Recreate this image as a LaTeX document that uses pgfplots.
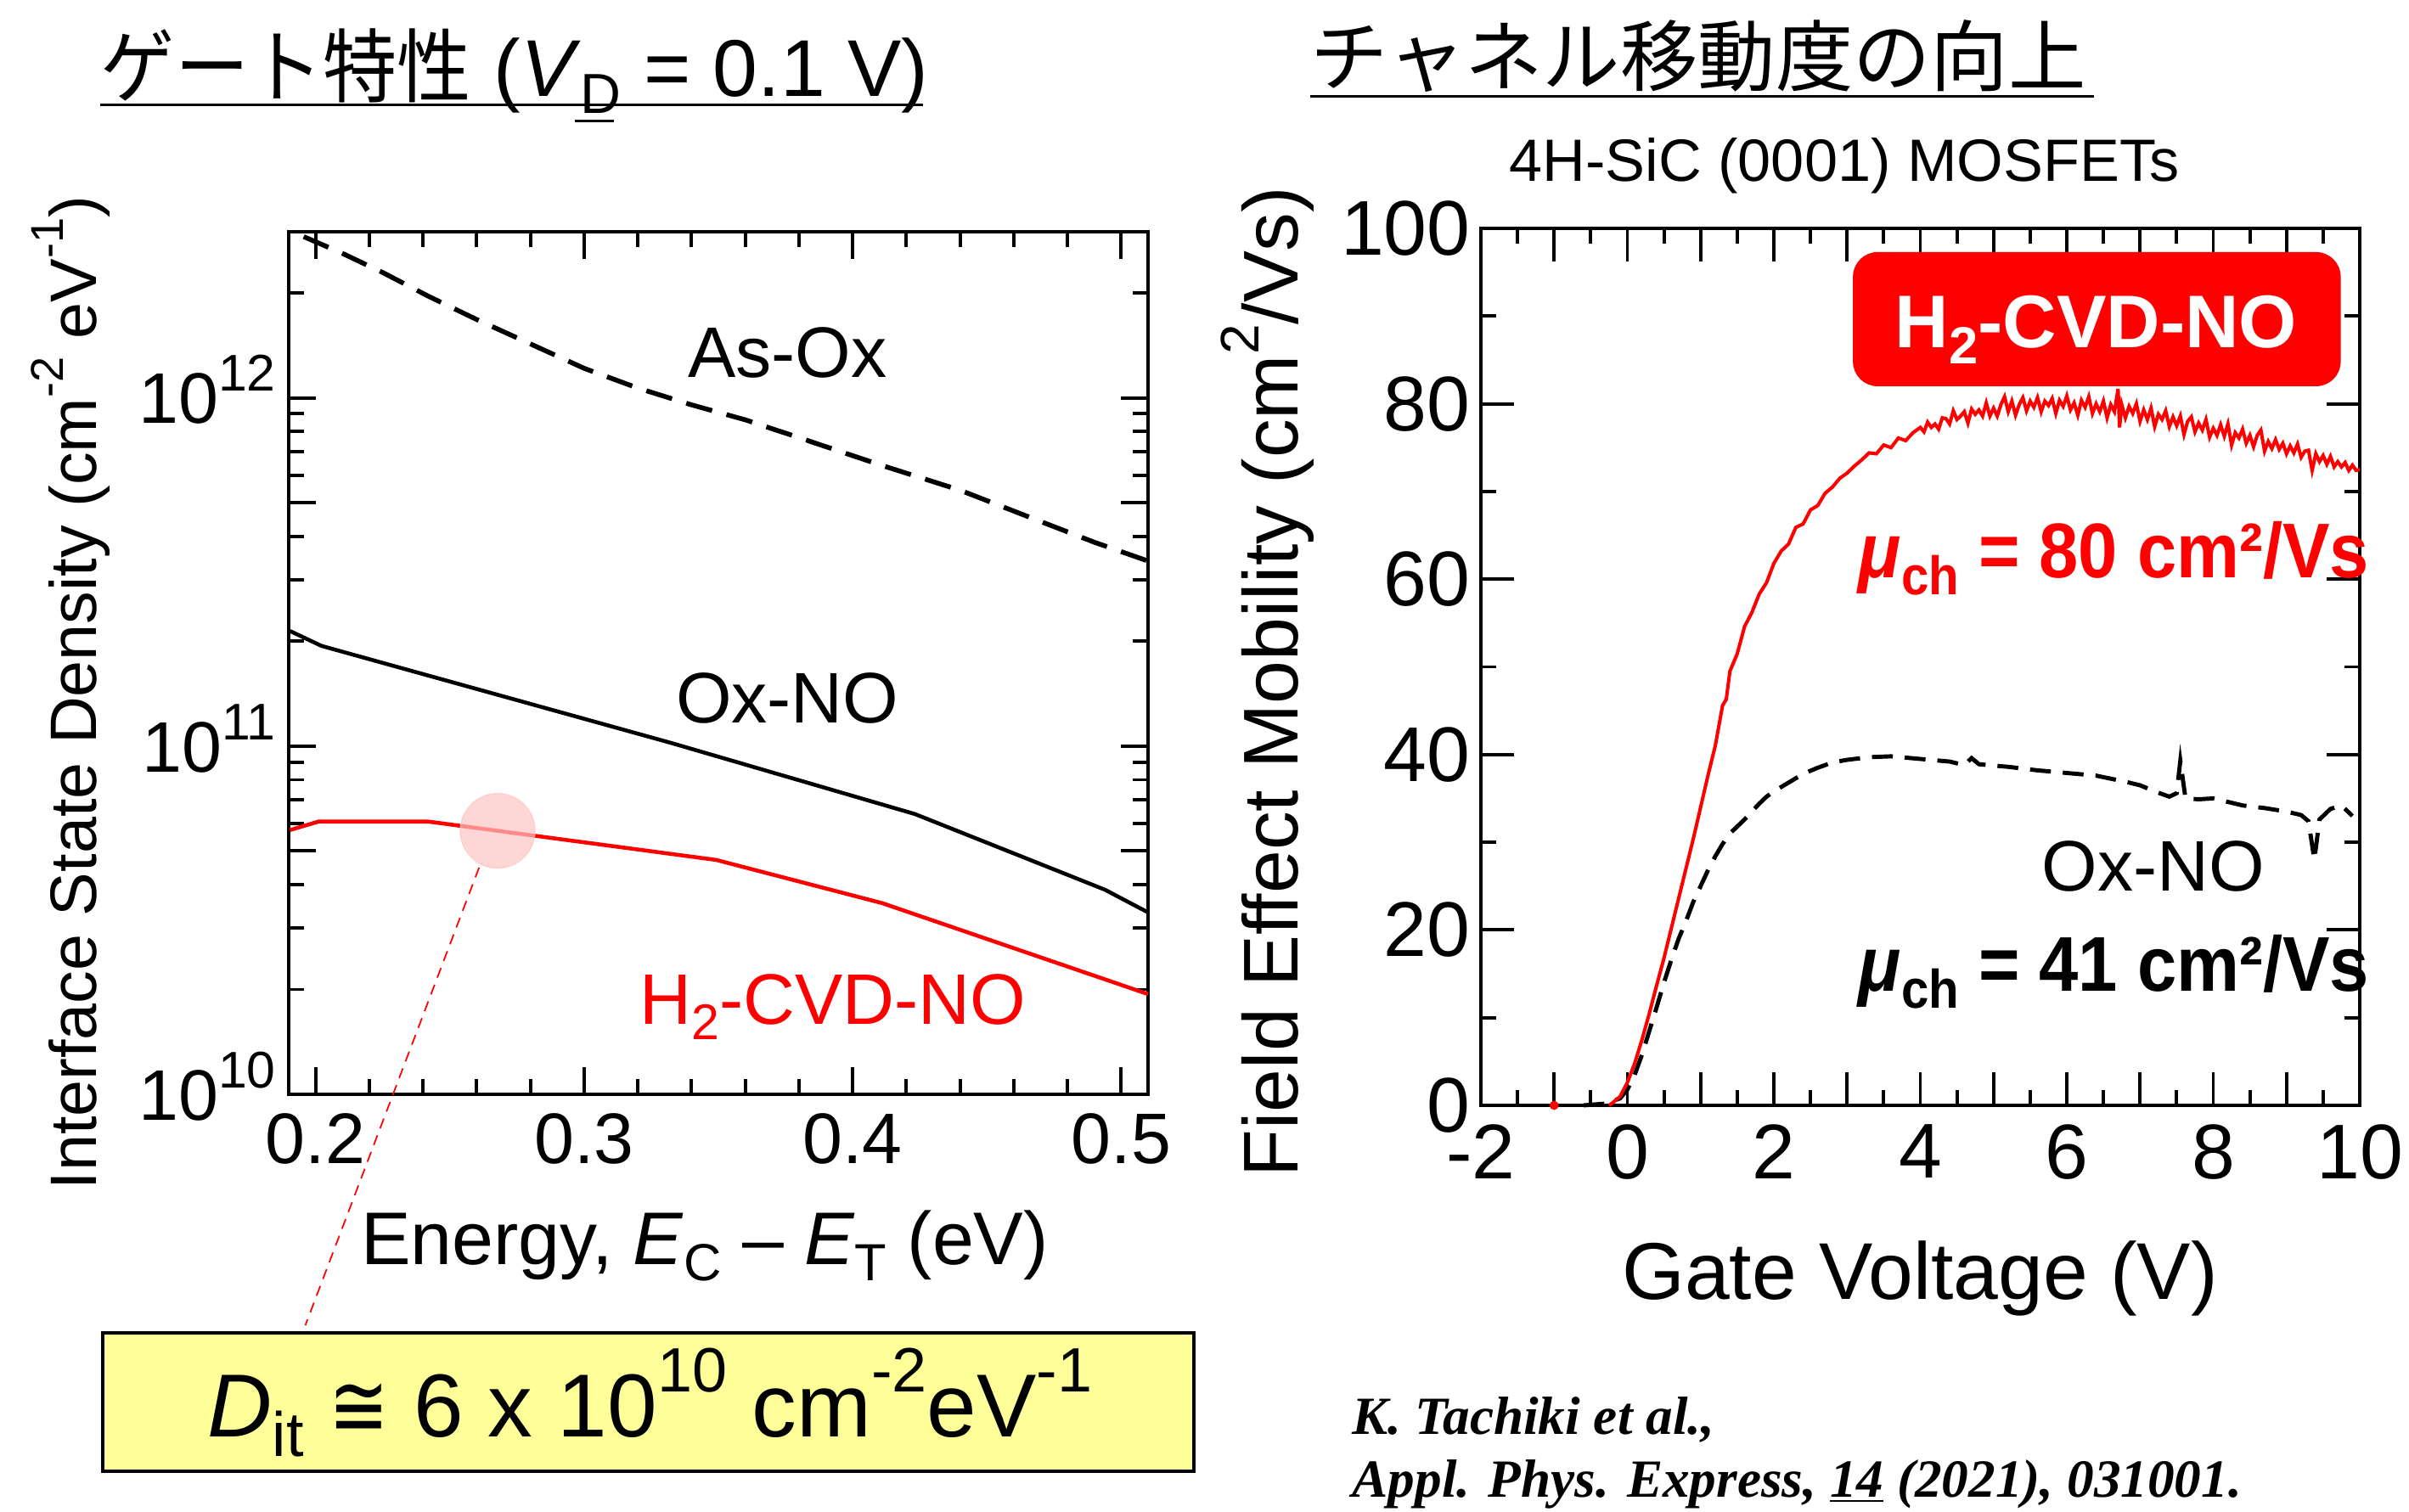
\documentclass[border=0pt]{standalone}
\usepackage{fontspec}
\setmainfont{Liberation Sans}
\newfontfamily\cjk{Noto Sans CJK JP}
\newfontfamily\tms{Liberation Serif}
\newfontfamily\dv{DejaVu Sans}
\usepackage{graphicx}
\usepackage{pgfplots}
\pgfplotsset{compat=1.18}
\newcommand{\sups}[1]{\raisebox{0.5em}{\scalebox{0.7}{#1}}}
\newcommand{\tsup}[1]{\raisebox{0.45em}{\scalebox{0.72}{#1}}}
\newcommand{\subs}[1]{\raisebox{-0.22em}{\scalebox{0.7}{#1}}}
\newcommand{\fs}[1]{\fontsize{#1}{#1}\selectfont}
\definecolor{pinkc}{RGB}{255,198,198}
\definecolor{yel}{RGB}{255,255,153}
\begin{document}
\begin{tikzpicture}
\fill[white] (0,0) rectangle (283.7mm,-178.1mm);
\path[use as bounding box] (0,0) rectangle (283.7mm,-178.1mm);

% ---------------- left axis ----------------
\begin{axis}[
  at={(34mm,-128.9mm)}, anchor=south west,
  width=101.2mm, height=101.6mm, scale only axis,
  xmin=0.19, xmax=0.51, ymode=log, ymin=1e10, ymax=3e12,
  xtick={0.2,0.3,0.4,0.5}, xticklabels={0.2,0.3,0.4,0.5},
  minor x tick num=4,
  ytick={1e10,1e11,1e12}, yticklabels={10\tsup{10},10\tsup{11},10\tsup{12}},
  minor ytick={2e10,3e10,4e10,6e10,7e10,8e10,9e10,2e11,3e11,4e11,6e11,7e11,8e11,9e11,2e12,3e12},
  extra y ticks={5e10,5e11}, extra y tick labels={},
  tick align=inside, major tick length=3.2mm, minor tick length=1.8mm,
  axis line style={line width=1.4pt},
  every tick/.style={black, line width=1.1pt},
  xticklabel style={font={\fs{24pt}}, yshift=-1mm},
  yticklabel style={font={\fs{24pt}}, anchor=base east, yshift=-8.6pt, xshift=-0.3mm},
  clip=false,
]
\addplot[black, line width=1.6pt, dash pattern=on 9pt off 5pt] coordinates {
 (0.1956,2.904e12) (0.21,2.600e12) (0.225,2.291e12) (0.242,1.959e12) (0.26,1.679e12) (0.28,1.429e12)
 (0.30,1.216e12) (0.32,1.067e12) (0.34,9.55e11) (0.36,8.65e11) (0.38,7.69e11) (0.41,6.43e11)
 (0.44,5.43e11) (0.465,4.57e11) (0.49,3.85e11) (0.51,3.40e11)};
\addplot[black, line width=1.3pt] coordinates {
 (0.1905,2.14e11) (0.2022,1.94e11) (0.3326,1.02e11) (0.4232,6.38e10) (0.4939,3.87e10) (0.51,3.33e10)};
\addplot[red, line width=1.3pt] coordinates {
 (0.1905,5.74e10) (0.2011,6.07e10) (0.242,6.07e10) (0.3492,4.71e10) (0.411,3.54e10) (0.51,1.94e10)};
\addplot[pinkc, only marks, mark=*, mark size=4.4mm, opacity=0.7] coordinates {(0.2678,5.71e10)};
\draw[red, line width=0.5pt, dash pattern=on 3.5pt off 2.5pt] (axis cs:0.2609,4.48e10) -- (axis cs:0.1962,2.17e9);
\node[font={\fs{24pt}}] at (axis cs:0.3757,1.35e12) {As-Ox};
\node[font={\fs{24pt}}] at (axis cs:0.3757,1.37e11) {Ox-NO};
\node[font={\fs{24pt}}, text=red] at (axis cs:0.3927,1.78e10) {H\subs{2}-CVD-NO};
\end{axis}

% ---------------- right axis ----------------
\begin{axis}[
  at={(174.4mm,-130.2mm)}, anchor=south west,
  width=103.5mm, height=103.3mm, scale only axis,
  xmin=-2, xmax=10, ymin=0, ymax=100,
  xtick={-2,-1,...,10}, xticklabels={-2,,0,,2,,4,,6,,8,,10},
  minor x tick num=1,
  ytick={0,20,40,60,80,100}, yticklabels={0,20,40,60,80,100},
  minor ytick={10,30,50,70,90},
  tick align=inside, major tick length=3.9mm, minor tick length=1.8mm,
  axis line style={line width=1.4pt},
  every tick/.style={black, line width=1.1pt},
  xticklabel style={font={\fs{26pt}}, yshift=-1mm},
  yticklabel style={font={\fs{26pt}}},
  clip=false,
]
\addplot[black, line width=1.4pt, dash pattern=on 7pt off 4pt] coordinates {
 (-0.6,0) (-0.3,0.2) (-0.1,0.8) (0.0,1.8) (0.1,3.5) (0.2,5.8) (0.3,8.5) (0.4,11.2) (0.5,14.0)
 (0.6,16.6) (0.7,19.0) (0.8,21.0) (0.9,23.2) (1.0,25.0) (1.1,26.8) (1.2,28.4) (1.3,29.8) (1.4,31.0)
 (1.5,31.8) (1.6,32.6) (1.7,33.5) (1.8,34.4) (1.9,35.2) (2.0,35.8) (2.2,36.8) (2.4,37.8) (2.6,38.5)
 (2.8,39.1) (3.0,39.4) (3.3,39.7) (3.6,39.8) (4.0,39.5) (4.4,39.2) (4.6,38.8) (4.7,39.6) (4.8,38.9)
 (5.2,38.6) (5.6,38.2) (6.0,37.9) (6.4,37.6) (6.8,36.9) (7.0,36.5) (7.2,35.8) (7.4,35.2) (7.5,35.6)
 (7.55,39.3) (7.62,35.0) (7.8,34.9) (8.0,35.0) (8.2,34.6) (8.4,34.2) (8.7,33.9) (9.0,33.5) (9.2,33.1)
 (9.3,32.4) (9.38,28.0) (9.45,32.6) (9.6,33.8) (9.75,34.2) (9.9,33.0)};
\addplot[red, line width=1.15pt] coordinates {
 (-0.25,0) (-0.2,0.3) (-0.1,1.0) (0.0,2.6) (0.1,4.8) (0.2,7.5) (0.3,10.5) (0.4,13.7) (0.5,16.8)
 (0.6,20.2) (0.7,23.6) (0.8,27.0) (0.9,30.4) (1.0,34.0) (1.1,37.6) (1.2,41.0) (1.3,45.6) (1.35,46.3)
 (1.4,49.5) (1.5,51.5) (1.6,54.6) (1.7,56.2) (1.8,58.3) (1.9,59.6)
 (2.0,61.8) (2.1,63.2) (2.2,64.0) (2.3,65.9) (2.4,66.3) (2.5,67.9) (2.6,68.4) (2.7,69.8) (2.8,70.5)
 (2.9,71.5) (3.0,72.1) (3.1,72.9) (3.2,73.6) (3.3,74.4) (3.4,74.3) (3.5,75.3) (3.6,75.0) (3.7,76.1)
 (3.8,75.8) (3.9,76.7)
 (4.00,77.3) (4.05,76.8) (4.10,77.9) (4.15,77.3) (4.20,77.7) (4.25,77.1) (4.30,78.4) (4.35,78.3)
 (4.40,77.7) (4.45,79.2) (4.50,78.2) (4.55,78.6) (4.60,79.1) (4.65,77.8) (4.70,79.4) (4.75,78.8)
 (4.80,79.3) (4.85,78.6) (4.90,80.1) (4.95,78.6) (5.00,79.5) (5.05,78.6) (5.10,79.9) (5.15,80.8)
 (5.20,79.1) (5.25,80.3) (5.30,78.7) (5.35,79.9) (5.40,80.7) (5.45,79.2) (5.50,80.3) (5.55,79.6)
 (5.60,80.7) (5.65,79.1) (5.70,80.3) (5.75,79.8) (5.80,80.6) (5.85,78.9) (5.90,80.4) (5.95,79.7)
 (6.00,80.9) (6.05,79.3) (6.10,80.1) (6.15,78.7) (6.20,80.4) (6.25,79.6) (6.30,80.8) (6.35,78.9)
 (6.40,80.0) (6.45,79.1) (6.50,80.3) (6.55,78.4) (6.60,79.9) (6.65,79.1) (6.70,81.7) (6.72,77.3)
 (6.75,79.9) (6.80,78.4) (6.85,79.7) (6.90,78.9) (6.95,80.0) (7.00,78.0) (7.05,79.3) (7.10,78.2)
 (7.15,79.5) (7.20,77.4) (7.25,78.8) (7.30,78.2) (7.35,79.2) (7.40,77.4) (7.45,78.5) (7.50,77.5)
 (7.55,78.6) (7.60,76.5) (7.65,78.0) (7.70,78.5) (7.75,76.8) (7.80,77.8) (7.85,77.0) (7.90,78.2)
 (7.95,76.2) (8.00,77.2) (8.05,76.4) (8.10,77.6) (8.15,76.3) (8.20,77.7) (8.25,75.3) (8.30,76.7)
 (8.35,76.1) (8.40,77.1) (8.45,75.5) (8.50,76.4) (8.55,75.1) (8.60,76.4) (8.65,77.0) (8.70,74.6)
 (8.75,75.7) (8.80,74.9) (8.85,75.9) (8.90,74.8) (8.95,75.5) (9.00,74.3) (9.05,75.2) (9.10,74.4)
 (9.15,75.4) (9.20,73.9) (9.25,74.6) (9.30,74.7) (9.35,72.4) (9.40,74.3) (9.45,73.4) (9.50,74.1)
 (9.55,73.1) (9.60,74.0) (9.65,72.8) (9.70,73.4) (9.75,72.8) (9.80,73.3) (9.85,72.4) (9.90,73.0)
 (9.95,72.4) (10.00,72.5)};
\addplot[only marks, mark=*, mark size=1.3pt, red] coordinates {(-1,0)};
\draw[fill=red, draw=none, rounded corners=2.9mm] (axis cs:3.08,82.0) rectangle (axis cs:9.74,97.3);
\node[anchor=base, text=white, font={\fs{25pt}\bfseries}] at (axis cs:6.40,86.4) {H\subs{2}-CVD-NO};
\node[anchor=base west, text=red, font={\fs{26pt}\bfseries}, inner sep=0pt] at (axis cs:3.15,60.2) {\scalebox{0.91}[1]{\textit{μ}\subs{ch} = 80 cm²/Vs}};
\node[font={\fs{24pt}}] at (axis cs:7.18,27.3) {Ox-NO};
\node[anchor=base west, font={\fs{26pt}\bfseries}, inner sep=0pt] at (axis cs:3.15,13.0) {\scalebox{0.91}[1]{\textit{μ}\subs{ch} = 41 cm²/Vs}};
\end{axis}

% ---------------- text outside the axes ----------------
\begin{scope}[x=0.1mm, y=-0.1mm]
\node[rotate=90, anchor=base, font={\fs{22pt}}] at (113,816) {Interface State Density (cm\sups{-2} eV\sups{-1})};
\node[rotate=90, anchor=base, font={\fs{26pt}}] at (1528,803) {Field Effect Mobility (cm\sups{2}/Vs)};
\node[anchor=base, font={\fs{25pt}}] at (830,1489) {Energy, \textit{E}\subs{C} – \textit{E}\subs{T} (eV)};
\node[anchor=base, font={\fs{27pt}}] at (2261,1530) {Gate Voltage (V)};
\node[anchor=base west, font={\fs{27pt}}, inner sep=0pt] at (118,113) {\scalebox{0.92}[1]{\cjk ゲート特性} (\textit{V}\subs{D} = 0.1 V)};
\draw[line width=0.3mm] (118,123) -- (1087,123);
\draw[line width=0.3mm] (677,142) -- (723,142);
\node[anchor=base west, font={\fs{26pt}}, inner sep=0pt] at (1543,100) {\cjk チャネル移動度の向上};
\draw[line width=0.3mm] (1543,113) -- (2466,113);
\node[anchor=base, font={\fs{20pt}}] at (2172,213) {4H-SiC (0001) MOSFETs};
\draw[fill=yel, line width=0.45mm] (121,1570) rectangle (1406,1733);
\node[anchor=base west, font={\fs{30pt}}, inner sep=0pt] at (244,1692) {\textit{D}\subs{it} \scalebox{0.8}[1]{\dv ≅} 6 x 10\sups{10} cm\sups{-2}eV\sups{-1}};
\node[anchor=base west, font={\fs{18pt}\tms\bfseries\itshape}, inner sep=0pt] at (1592,1689) {K. Tachiki et al.,};
\node[anchor=base west, font={\fs{18pt}\tms\bfseries\itshape}, inner sep=0pt] at (1592,1763) {Appl. Phys. Express, \underline{14} (2021), 031001.};
\end{scope}
\end{tikzpicture}
\end{document}
